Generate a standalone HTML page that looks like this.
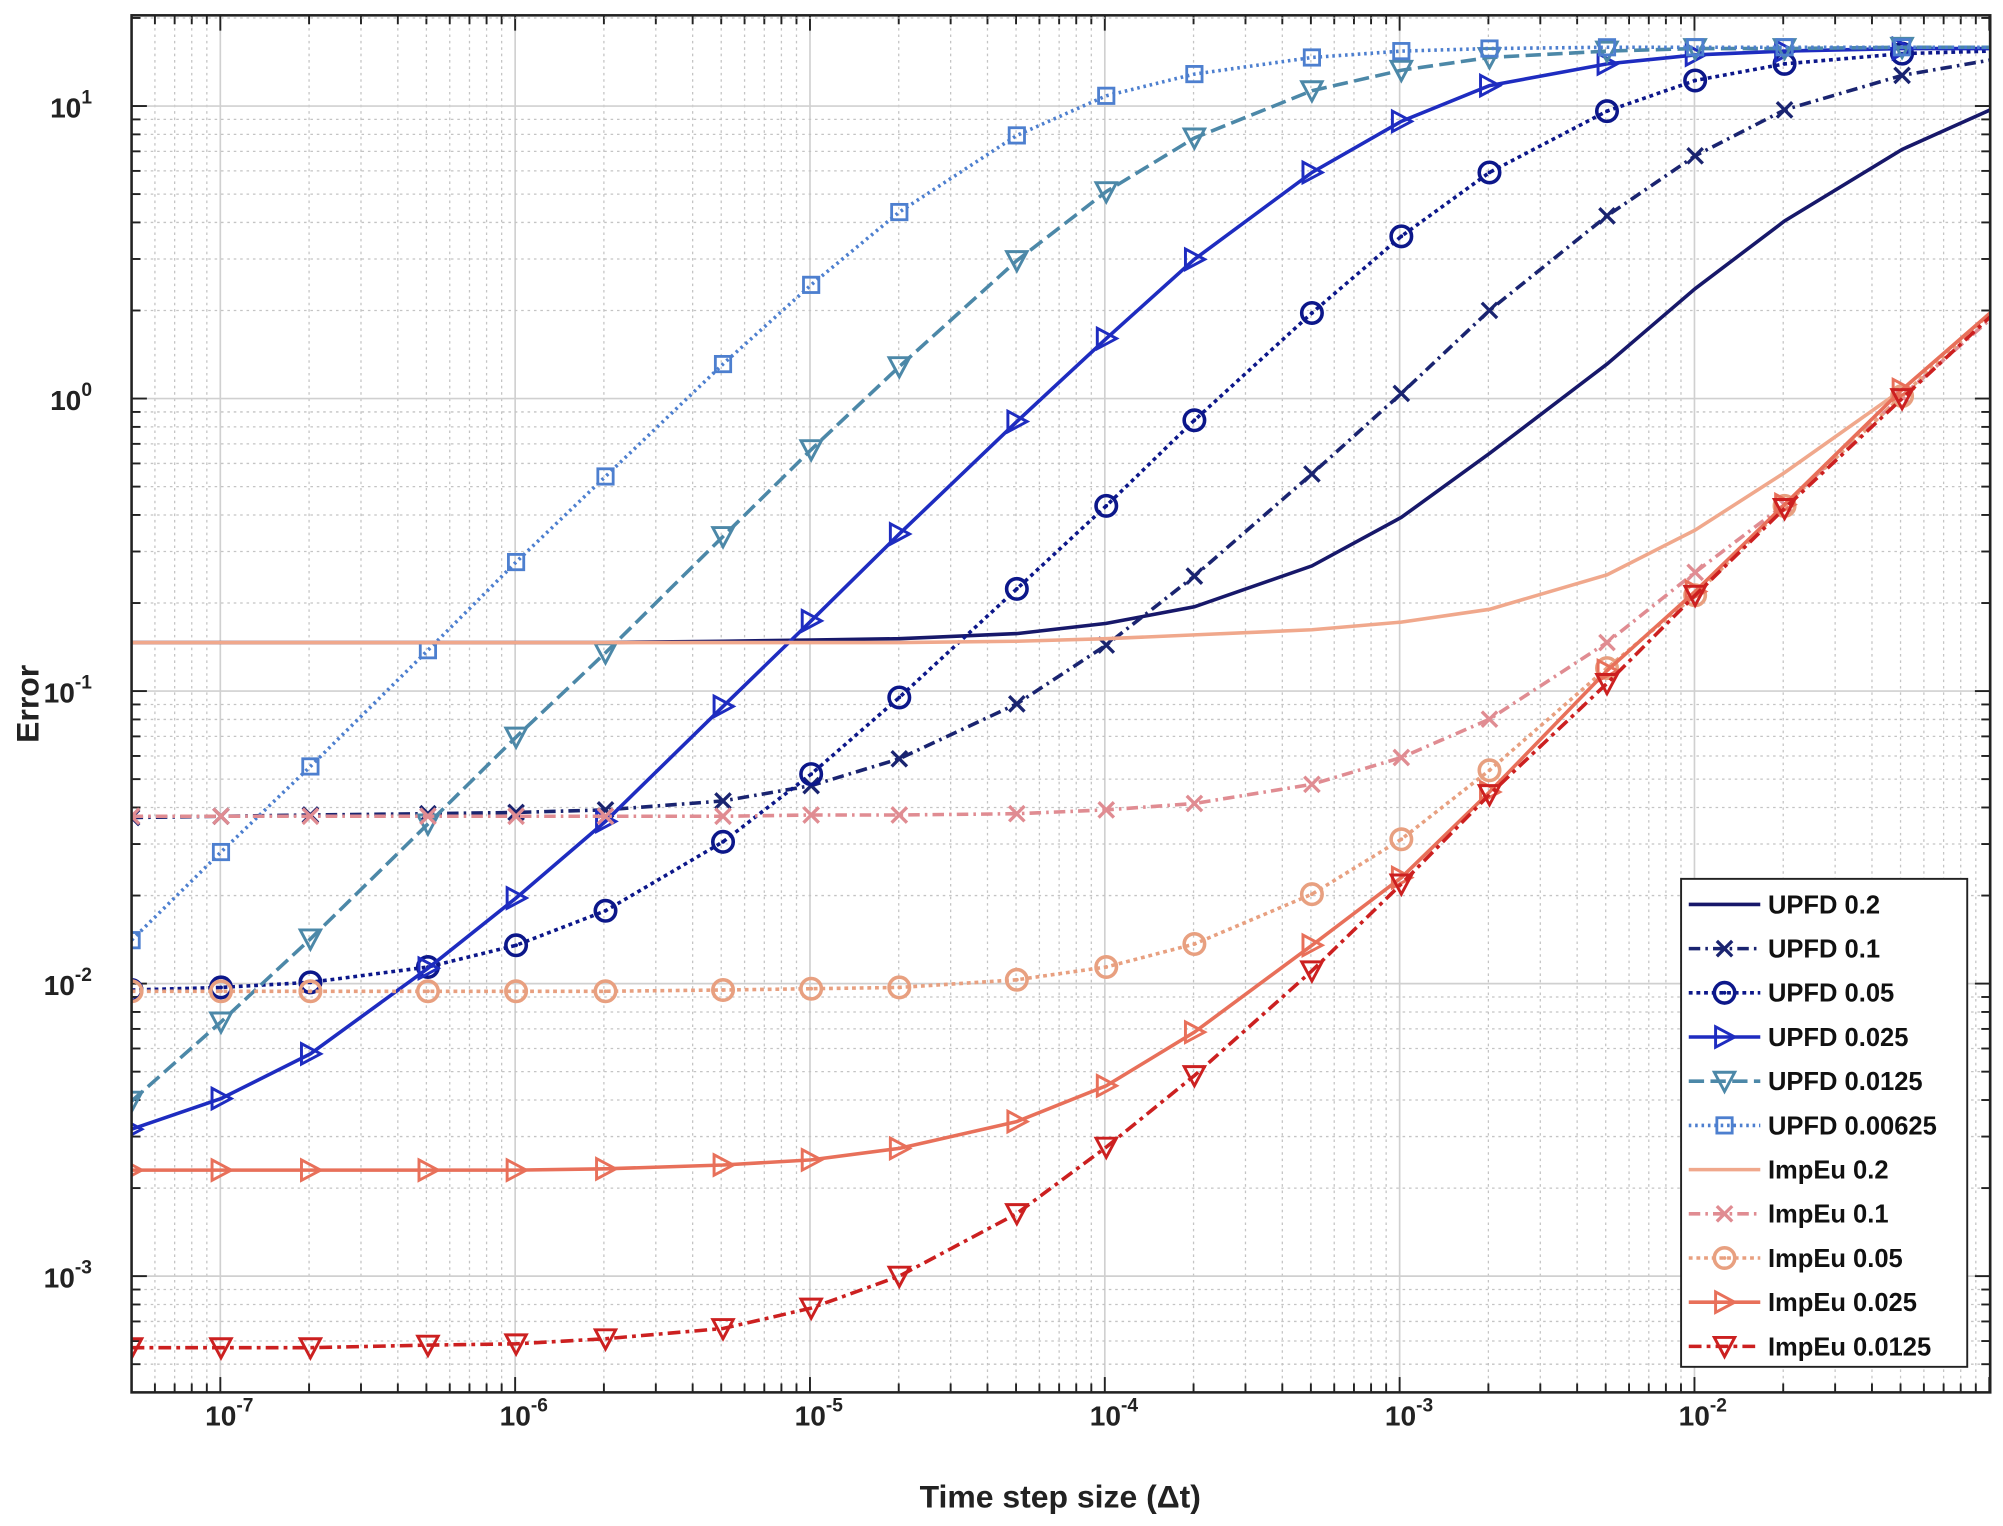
<!DOCTYPE html>
<html><head><meta charset="utf-8">
<style>html,body{margin:0;padding:0;background:#fff}svg{display:block}</style>
</head><body>
<svg id="s" width="2003" height="1526" viewBox="0 0 1568 1194.6" preserveAspectRatio="none" xmlns="http://www.w3.org/2000/svg" font-family="'Liberation Sans', Arial, sans-serif"></svg>
<script>
const s=document.getElementById('s');
let h='';
const L=103,R=1558,T=12,B=1090;
const px=l=>103+(l+7.301)*230.8;
const py=l=>770-(l+2)*229;
for(let d=-8;d<=-1;d++){for(let k=1;k<=9;k++){const l=d+Math.log10(k);const x=px(l);if(x<L||x>R)continue;
 if(k==1)h+=`<line x1="${x}" y1="${T}" x2="${x}" y2="${B}" stroke="#d0d0d0" stroke-width="1.3"/>`;
 else h+=`<line x1="${x}" y1="${T}" x2="${x}" y2="${B}" stroke="#c4c4c4" stroke-width="1" stroke-dasharray="2,3"/>`;
 const tl=k==1?12:7;h+=`<line x1="${x}" y1="${B}" x2="${x}" y2="${B-tl}" stroke="#222" stroke-width="1.5"/><line x1="${x}" y1="${T}" x2="${x}" y2="${T+tl}" stroke="#222" stroke-width="1.5"/>`;}}
for(let d=-4;d<=1;d++){for(let k=1;k<=9;k++){const l=d+Math.log10(k);const y=py(l);if(y<T||y>B)continue;
 if(k==1)h+=`<line x1="${L}" y1="${y}" x2="${R}" y2="${y}" stroke="#d0d0d0" stroke-width="1.3"/>`;
 else h+=`<line x1="${L}" y1="${y}" x2="${R}" y2="${y}" stroke="#c4c4c4" stroke-width="1" stroke-dasharray="2,3"/>`;
 const tl=k==1?12:7;h+=`<line x1="${L}" y1="${y}" x2="${L+tl}" y2="${y}" stroke="#222" stroke-width="1.5"/><line x1="${R}" y1="${y}" x2="${R-tl}" y2="${y}" stroke="#222" stroke-width="1.5"/>`;}}
const X=[103,173,243,335,404,474,566,635,704,796,866,935,1027,1097,1166,1258,1327,1397,1489,1558];
const S=[
 {n:'UPFD 0.2',c:'#17186a',d:'',m:'',y:[503,503,503,503,503,503,502,501,500,496,488,475,443,405,355,285,226,173,117,86]},
 {n:'UPFD 0.1',c:'#1a2470',d:'9,4,2,4',m:'x',y:[640,639,638,637,636,634,627,615,594,551,505,451,371,308,243,169,122,86,59,47]},
 {n:'UPFD 0.05',c:'#0c178a',d:'3,3',m:'o',y:[775,773,769,757,740,713,659,606,546,461,396,329,245,185,135,87,63,50,42,40]},
 {n:'UPFD 0.025',c:'#1e2cc0',d:'',m:'>',y:[884,860,825,758,703,643,553,486,418,330,265,203,135,95,67,50,43,40,38,38]},
 {n:'UPFD 0.0125',c:'#4c88a8',d:'12,5',m:'v',y:[862,800,735,645,577,511,420,352,287,204,150,108,71,55,45,40,38,38,37,37]},
 {n:'UPFD 0.00625',c:'#4d7fcf',d:'2,3',m:'s',y:[736,667,600,509,440,373,285,223,166,106,75,58,45,40,38,37,37,37,37,37]},
 {n:'ImpEu 0.2',c:'#f0a88c',d:'',m:'',y:[503,503,503,503,503,503,503,503,503,502,500,497,493,487,477,450,415,370,305,245]},
 {n:'ImpEu 0.1',c:'#e08c92',d:'9,4,2,4',m:'x',y:[639,639,639,639,639,639,639,638,638,637,634,629,614,593,563,503,448,395,310,250]},
 {n:'ImpEu 0.05',c:'#e8a080',d:'3,3',m:'o',y:[776,776,776,776,776,776,775,774,773,767,757,739,700,657,603,523,466,396,310,245]},
 {n:'ImpEu 0.025',c:'#e8705a',d:'',m:'>',y:[916,916,916,916,916,915,912,908,899,878,850,808,740,687,620,525,463,395,305,245]},
 {n:'ImpEu 0.0125',c:'#cc2020',d:'10,4,3,4',m:'v',y:[1055,1055,1055,1053,1052,1048,1040,1024,999,950,898,842,760,692,622,535,466,398,312,248]}
];
function mk(m,x,y,c){const r=8;
 if(m=='x')return `<path d="M${x-6} ${y-6}L${x+6} ${y+6}M${x-6} ${y+6}L${x+6} ${y-6}" stroke="${c}" stroke-width="2.6" fill="none"/>`;
 if(m=='o')return `<circle cx="${x}" cy="${y}" r="${r}" stroke="${c}" stroke-width="2.8" fill="none"/><circle cx="${x}" cy="${y}" r="1.5" fill="${c}"/>`;
 if(m=='>')return `<path d="M${x-7} ${y-r}L${x+8} ${y}L${x-7} ${y+r}Z" stroke="${c}" stroke-width="2.3" fill="none"/>`;
 if(m=='v')return `<path d="M${x-r} ${y-7}L${x+r} ${y-7}L${x} ${y+8}Z" stroke="${c}" stroke-width="2.3" fill="none"/>`;
 if(m=='s')return `<rect x="${x-6}" y="${y-6}" width="12" height="12" stroke="${c}" stroke-width="2.2" fill="none"/>`;return '';}
h+=`<defs><clipPath id="cp"><rect x="${L}" y="${T}" width="${R-L}" height="${B-T}"/></clipPath></defs><g clip-path="url(#cp)">`;
for(const sr of S){const pts=sr.y.map((y,i)=>X[i]+','+y).join(' ');
 h+=`<polyline points="${pts}" fill="none" stroke="${sr.c}" stroke-width="2.8" ${sr.d?`stroke-dasharray="${sr.d}"`:''}/>`;
 if(sr.m)for(let i=0;i<19;i++)h+=mk(sr.m,X[i],sr.y[i],sr.c);}
h+='</g>';
h+=`<rect x="${L}" y="${T}" width="${R-L}" height="${B-T}" fill="none" stroke="#222" stroke-width="2"/>`;
const xl=[[-7,173.5],[-6,404],[-5,635],[-4,866],[-3,1097],[-2,1327]];
for(const [e,x] of xl)h+=`<text x="${x+6}" y="1116" font-size="22" font-weight="bold" text-anchor="middle" fill="#222">10<tspan font-size="15" dy="-11">${e}</tspan></text>`;
const yl=[[1,83],[0,312],[-1,541],[-2,770],[-3,999]];
for(const [e,y] of yl)h+=`<text x="72" y="${y+9}" font-size="22" font-weight="bold" text-anchor="end" fill="#222">10<tspan font-size="15" dy="-11">${e}</tspan></text>`;
h+=`<text x="830" y="1180" font-size="25" font-weight="bold" text-anchor="middle" fill="#222">Time step size (Δt)</text>`;
h+=`<text transform="translate(30,551) rotate(-90)" font-size="25" font-weight="bold" text-anchor="middle" fill="#222">Error</text>`;
h+=`<rect x="1316" y="688" width="224" height="382" fill="#fff" stroke="#222" stroke-width="1.5"/>`;
S.forEach((sr,i)=>{const y=708+i*34.6;
 h+=`<line x1="1322" y1="${y}" x2="1378" y2="${y}" stroke="${sr.c}" stroke-width="2.8" ${sr.d?`stroke-dasharray="${sr.d}"`:''}/>`+mk(sr.m,1350,y,sr.c);
 h+=`<text x="1384" y="${y+7}" font-size="20" font-weight="bold" fill="#111">${sr.n}</text>`;});
s.innerHTML=h;
</script>
</body></html>
